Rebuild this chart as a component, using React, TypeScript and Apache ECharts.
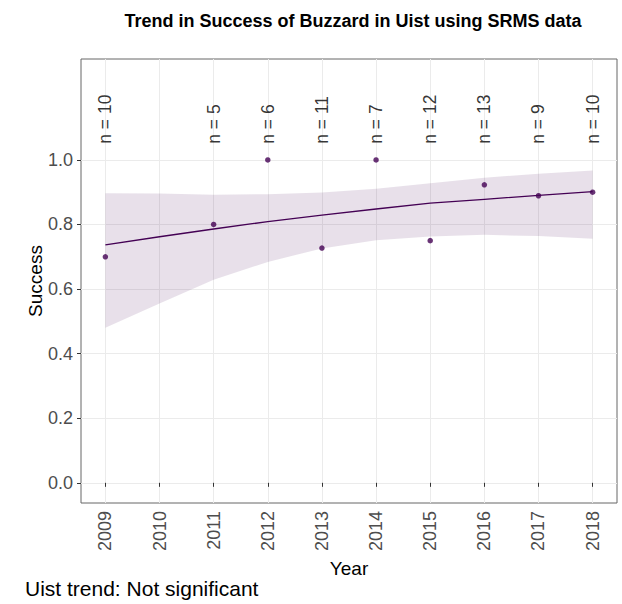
import React, { useEffect, useRef } from "react";
import * as echarts from "echarts";

const years = [2009, 2010, 2011, 2012, 2013, 2014, 2015, 2016, 2017, 2018];
const pointYears = [2009, 2011, 2012, 2013, 2014, 2015, 2016, 2017, 2018];
const successValues = [0.7, 0.8, 1.0, 0.727, 1.0, 0.75, 0.923, 0.889, 0.9];
const sampleSizes = [10, 5, 6, 11, 7, 12, 13, 9, 10];
const trendFit = [0.737, 0.762, 0.786, 0.809, 0.829, 0.848, 0.866, 0.878, 0.89, 0.902];
const ciUpper = [0.897, 0.896, 0.892, 0.894, 0.899, 0.911, 0.928, 0.945, 0.957, 0.967];
const ciLower = [0.48, 0.555, 0.629, 0.684, 0.726, 0.751, 0.763, 0.768, 0.764, 0.756];
const yTicks = [0, 0.2, 0.4, 0.6, 0.8, 1.0];
const labelLevel = 1.05;

const FONT = "'Liberation Sans', Arial, Helvetica, sans-serif";
const PURPLE = "#440154";

export default function App() {
  const ref = useRef<HTMLDivElement>(null);
  useEffect(() => {
    document.body.style.margin = "0";
    if (!ref.current) return;
    const chart = echarts.init(ref.current, undefined, { renderer: "svg" });
    const option: any = {
      animation: false,
      textStyle: { fontFamily: FONT },
      title: {
        text: "Trend in Success of Buzzard in Uist using SRMS data",
        left: 348,
        top: 7,
        textAlign: "center",
        textStyle: { fontFamily: FONT, fontSize: 18, fontWeight: "bold", color: "#000" },
      },
      grid: {
        left: 81,
        right: 5,
        top: 59,
        bottom: 101,
        show: true,
        borderColor: "#666",
        borderWidth: 1,
        backgroundColor: "transparent",
      },
      graphic: [
        {
          type: "text",
          left: 25,
          top: 578,
          style: { text: "Uist trend: Not significant", font: `21px ${FONT}`, fill: "#000" },
        },
      ],
      xAxis: {
        type: "value",
        min: 2008.55,
        max: 2018.45,
        name: "Year",
        nameLocation: "middle",
        nameGap: 50,
        nameTextStyle: { fontSize: 19, color: "#000", fontFamily: FONT },
        axisLine: { show: false },
        axisTick: { show: true, customValues: years, length: 4, lineStyle: { color: "#333" } },
        axisLabel: {
          customValues: years,
          rotate: 90,
          fontSize: 18,
          color: "#4d4d4d",
          margin: 8,
          formatter: (v: number) => String(v),
        },
        splitLine: { show: true, lineStyle: { color: "#ebebeb", width: 1 } },
      },
      yAxis: {
        type: "value",
        min: -0.0625,
        max: 1.3125,
        name: "Success",
        nameLocation: "middle",
        nameGap: 36,
        nameMoveOverlap: false,
        nameTextStyle: { fontSize: 19, color: "#000", fontFamily: FONT },
        axisLine: { show: false },
        axisTick: { show: true, customValues: yTicks, length: 4, lineStyle: { color: "#333" } },
        axisLabel: {
          customValues: yTicks,
          fontSize: 18,
          color: "#4d4d4d",
          margin: 8,
          formatter: (v: number) => v.toFixed(1),
        },
        splitLine: { show: true, lineStyle: { color: "#ebebeb", width: 1 } },
      },
      series: [
        {
          type: "custom",
          name: "ci",
          silent: true,
          data: years.map((y, i) => [y, ciLower[i], ciUpper[i]]),
          renderItem: (params: any, api: any) => {
            if (params.dataIndex !== 0) return null;
            const upperPts = years.map((y, i) => api.coord([y, ciUpper[i]]));
            const lowerPts = years.map((y, i) => api.coord([y, ciLower[i]])).reverse();
            return {
              type: "polygon",
              shape: { points: upperPts.concat(lowerPts) },
              style: { fill: "rgba(68,1,84,0.12)", stroke: "none" },
            };
          },
          z: 1,
        },
        {
          type: "line",
          data: years.map((y, i) => [y, trendFit[i]]),
          symbol: "none",
          lineStyle: { color: PURPLE, width: 1.3 },
          z: 2,
        },
        {
          type: "scatter",
          data: pointYears.map((y, i) => [y, successValues[i]]),
          symbolSize: 5.5,
          itemStyle: { color: PURPLE },
          z: 3,
        },
        {
          type: "scatter",
          data: pointYears.map((y, i) => [y, labelLevel, sampleSizes[i]]),
          symbolSize: 0,
          itemStyle: { color: "transparent" },
          label: {
            show: true,
            position: "inside",
            rotate: 90,
            align: "left",
            verticalAlign: "middle",
            fontSize: 17.5,
            color: "#000",
            fontFamily: FONT,
            formatter: (p: any) => `n = ${p.data[2]}`,
          },
          z: 4,
        },
      ],
    };
    chart.setOption(option);
    return () => chart.dispose();
  }, []);
  return <div ref={ref} style={{ width: 622, height: 604 }} />;
}
